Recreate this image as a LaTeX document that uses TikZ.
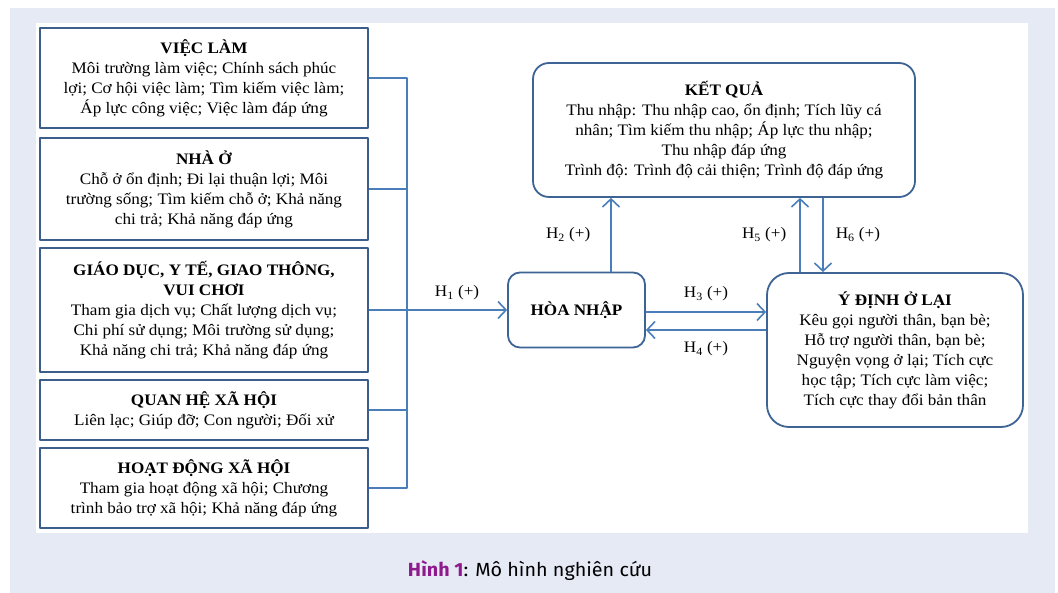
\documentclass[tikz,border=0pt]{standalone}
\usepackage{fontspec}
\setmainfont{Liberation Serif}[FakeStretch=1.07]
\newfontfamily\capfont{Fira Sans}[FakeStretch=1.04]
\usetikzlibrary{arrows.meta,positioning}
\definecolor{bgblue}{HTML}{E6EAF5}
\definecolor{edge}{HTML}{3B5E8C}
\definecolor{conn}{HTML}{4A7EBB}
\definecolor{capviolet}{HTML}{8E1A8E}
\begin{document}
\begin{tikzpicture}[x=1pt,y=-1pt, line join=round, font=\fontsize{16}{20}\selectfont,
	box/.style={draw=edge, line width=1.8pt, fill=white, align=center, minimum width=328pt, inner sep=2pt},
	rbox/.style={draw=edge!80!conn, line width=1.8pt, fill=white, rounded corners=16pt, align=center, inner sep=2pt},
	link/.style={conn, line width=1.6pt},
	arr/.style={link, -{Straight Barb[length=8pt,width=17pt,line width=1.6pt]}},
	hlab/.style={inner sep=2pt, text=black}]
	\fill[white] (0,0) rectangle (1058,593);
	\fill[bgblue] (10,8) rectangle (1055,593);
	\fill[white] (36,23) rectangle (1028,533);
	\useasboundingbox (0,0) rectangle (1058,593);
	\node[box, minimum height=100pt] (viec) at (204,78) {\textbf{VIỆC LÀM}\\Môi trường làm việc; Chính sách phúc\\lợi; Cơ hội việc làm; Tìm kiếm việc làm;\\Áp lực công việc; Việc làm đáp ứng};
	\node[box, minimum height=102pt] (nha) at (204,189) {\textbf{NHÀ Ở}\\Chỗ ở ổn định; Đi lại thuận lợi; Môi\\trường sống; Tìm kiếm chỗ ở; Khả năng\\chi trả; Khả năng đáp ứng};
	\node[box, minimum height=124pt] (giao) at (204,310) {\textbf{GIÁO DỤC, Y TẾ, GIAO THÔNG,}\\\textbf{VUI CHƠI}\\Tham gia dịch vụ; Chất lượng dịch vụ;\\Chi phí sử dụng; Môi trường sử dụng;\\Khả năng chi trả; Khả năng đáp ứng};
	\node[box, minimum height=60pt] (quan) at (204,410) {\textbf{QUAN HỆ XÃ HỘI}\\Liên lạc; Giúp đỡ; Con người; Đối xử};
	\node[box, minimum height=80pt] (hoat) at (204,488) {\textbf{HOẠT ĐỘNG XÃ HỘI}\\Tham gia hoạt động xã hội; Chương\\trình bảo trợ xã hội; Khả năng đáp ứng};
	\node[rbox, minimum width=137pt, minimum height=75pt, rounded corners=12pt] (hoa) at (576.5,310) {\textbf{HÒA NHẬP}};
	\node[rbox, minimum width=382pt, minimum height=134pt] (ket) at (724,130) {\textbf{KẾT QUẢ}\\Thu nhập: Thu nhập cao, ổn định; Tích lũy cá\\nhân; Tìm kiếm thu nhập; Áp lực thu nhập;\\Thu nhập đáp ứng\\Trình độ: Trình độ cải thiện; Trình độ đáp ứng};
	\node[rbox, minimum width=256pt, minimum height=154pt, rounded corners=22pt] (ydinh) at (895,350) {\textbf{Ý ĐỊNH Ở LẠI}\\Kêu gọi người thân, bạn bè;\\Hỗ trợ người thân, bạn bè;\\Nguyện vọng ở lại; Tích cực\\học tập; Tích cực làm việc;\\Tích cực thay đổi bản thân};
	\coordinate (hub) at (407,310);
	\draw[link] (viec.east) -- (viec.east -| hub) -- (hoat.east -| hub) -- (hoat.east);
	\draw[link] (nha.east) -- (nha.east -| hub);
	\draw[link] (giao.east) -- (hub);
	\draw[link] (quan.east) -- (quan.east -| hub);
	\draw[arr] (hub) -- (hoa.west) node[midway, above=7pt, hlab]{H\textsubscript{1} (+)};
	\coordinate (h2) at ([xshift=34.5pt]hoa.north);
	\draw[arr] (h2) -- (h2 |- ket.south) node[midway, left=18pt, hlab]{H\textsubscript{2} (+)};
	\coordinate (h3) at ([yshift=38pt]ydinh.west);
	\coordinate (h4) at ([yshift=20pt]ydinh.west);
	\draw[arr] (h3 -| hoa.east) -- (h3) node[midway, above=8pt, hlab]{H\textsubscript{3} (+)};
	\draw[arr] (h4) -- (h4 -| hoa.east) node[midway, below=9pt, hlab]{H\textsubscript{4} (+)};
	\coordinate (h5) at ([xshift=-95pt]ydinh.north);
	\coordinate (h6) at ([xshift=-72pt]ydinh.north);
	\draw[arr] (h5) -- (h5 |- ket.south) node[midway, left=11pt, hlab]{H\textsubscript{5} (+)};
	\draw[arr] (h6 |- ket.south) -- (h6) node[midway, right=10pt, hlab]{H\textsubscript{6} (+)};
	\node[font=\capfont\fontsize{19}{22}\selectfont] (cap) at (530,571) {\textcolor{capviolet}{\bfseries Hình 1}: Mô hình nghiên cứu};
\end{tikzpicture}
\end{document}
